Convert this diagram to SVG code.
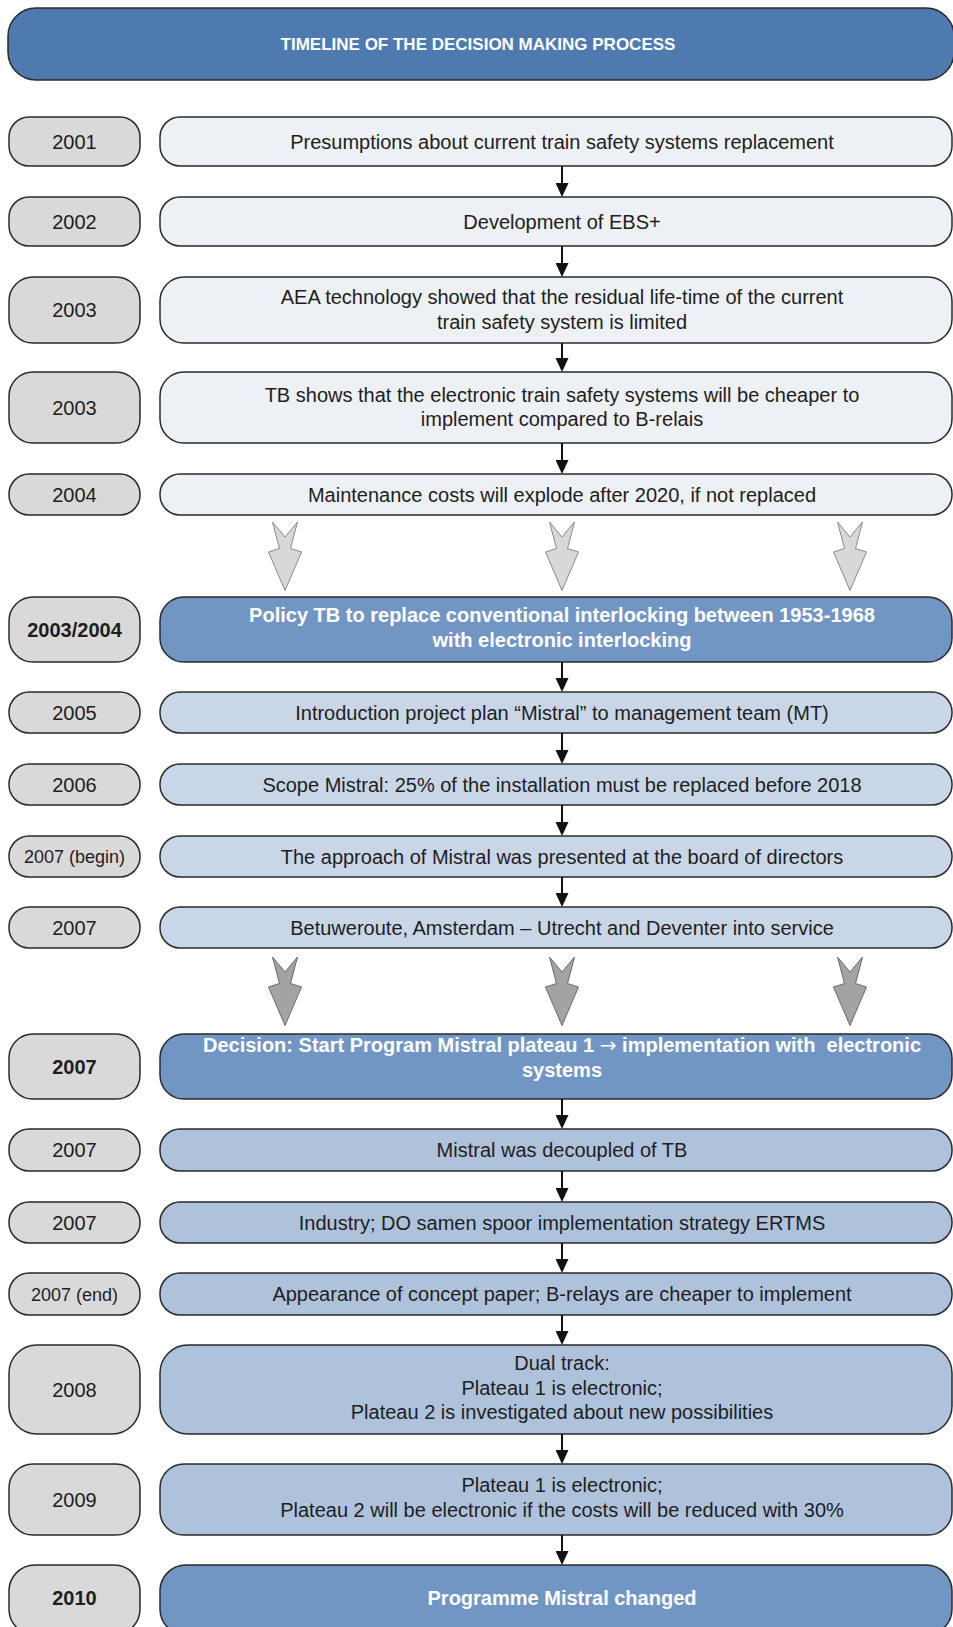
<svg xmlns="http://www.w3.org/2000/svg" width="953" height="1627" viewBox="0 0 953 1627">
<defs>
<marker id="ah" viewBox="0 0 14 13" refX="10" refY="6.5" markerWidth="14" markerHeight="13" markerUnits="userSpaceOnUse" orient="auto">
<path d="M0,0 L14,6.5 L0,13 Z" fill="#111"/>
</marker>
<style>
.yr{fill:#d9d9d9;stroke:#2a2a2a;stroke-width:1.5}
.l0{fill:#edf0f5;stroke:#2a2a2a;stroke-width:1.5}
.l1{fill:#c9d6e7;stroke:#2a2a2a;stroke-width:1.5}
.l2{fill:#afc2dc;stroke:#2a2a2a;stroke-width:1.5}
.hi{fill:#7296c4;stroke:#2a2a2a;stroke-width:1.5}
.ti{fill:#4e7ab0;stroke:#2a2a2a;stroke-width:1.5}
text{font-family:"Liberation Sans",Arial,sans-serif;font-size:20px;text-anchor:middle;fill:#1e1e1e}
.ys{font-size:18px}
.b{font-weight:bold}
.w{fill:#ffffff;font-weight:bold}
.tt{font-size:17px}
.arr{font-family:"DejaVu Sans",sans-serif;font-weight:normal}
.con line{stroke:#111;stroke-width:2;marker-end:url(#ah)}
.fa1{fill:#d8d8d8;stroke:#8a8a8a;stroke-width:1}
.fa2{fill:#a3a3a3;stroke:#6a6a6a;stroke-width:1}
</style>
</defs>
<g id="title">
<rect class="ti" x="8" y="8" width="946" height="72" rx="28"/>
<text class="w tt" x="478" y="50">TIMELINE OF THE DECISION MAKING PROCESS</text>
</g>

<g id="y2001"><rect class="yr" x="9" y="117" width="131" height="49" rx="20"/><text x="74.5" y="148.5">2001</text></g>
<g id="n2001"><rect class="l0" x="160" y="117" width="792" height="49" rx="20"/><text x="562" y="148.5">Presumptions about current train safety systems replacement</text></g>

<g id="y2002"><rect class="yr" x="9" y="197" width="131" height="49" rx="20"/><text x="74.5" y="228.5">2002</text></g>
<g id="n2002"><rect class="l0" x="160" y="197" width="792" height="49" rx="20"/><text x="562" y="228.5">Development of EBS+</text></g>

<g id="y2003a"><rect class="yr" x="9" y="277" width="131" height="66" rx="24"/><text x="74.5" y="317">2003</text></g>
<g id="n2003a"><rect class="l0" x="160" y="277" width="792" height="66" rx="24"/><text x="562" y="303.5">AEA technology showed that the residual life-time of the current</text><text x="562" y="328.5">train safety system is limited</text></g>

<g id="y2003b"><rect class="yr" x="9" y="372" width="131" height="71" rx="24"/><text x="74.5" y="414.5">2003</text></g>
<g id="n2003b"><rect class="l0" x="160" y="372" width="792" height="71" rx="24"/><text x="562" y="401.5">TB shows that the electronic train safety systems will be cheaper to</text><text x="562" y="426">implement compared to B-relais</text></g>

<g id="y2004"><rect class="yr" x="9" y="474" width="131" height="41" rx="20"/><text x="74.5" y="501.5">2004</text></g>
<g id="n2004"><rect class="l0" x="160" y="474" width="792" height="41" rx="20"/><text x="562" y="501.5">Maintenance costs will explode after 2020, if not replaced</text></g>

<g id="y2003_2004"><rect class="yr" x="9" y="597" width="131" height="65" rx="24"/><text class="b" x="74.5" y="636.5">2003/2004</text></g>
<g id="npolicy"><rect class="hi" x="160" y="597" width="792" height="65" rx="24"/><text class="w" x="562" y="622">Policy TB to replace conventional interlocking between 1953-1968</text><text class="w" x="562" y="647">with electronic interlocking</text></g>

<g id="y2005"><rect class="yr" x="9" y="692" width="131" height="41" rx="20"/><text x="74.5" y="719.5">2005</text></g>
<g id="n2005"><rect class="l1" x="160" y="692" width="792" height="41" rx="20"/><text x="562" y="719.5">Introduction project plan “Mistral” to management team (MT)</text></g>

<g id="y2006"><rect class="yr" x="9" y="764" width="131" height="41" rx="20"/><text x="74.5" y="791.5">2006</text></g>
<g id="n2006"><rect class="l1" x="160" y="764" width="792" height="41" rx="20"/><text x="562" y="791.5">Scope Mistral: 25% of the installation must be replaced before 2018</text></g>

<g id="y2007begin"><rect class="yr" x="9" y="836" width="131" height="41" rx="20"/><text class="ys" x="74.5" y="863">2007 (begin)</text></g>
<g id="n2007begin"><rect class="l1" x="160" y="836" width="792" height="41" rx="20"/><text x="562" y="863.5">The approach of Mistral was presented at the board of directors</text></g>

<g id="y2007a"><rect class="yr" x="9" y="907" width="131" height="41" rx="20"/><text x="74.5" y="934.5">2007</text></g>
<g id="n2007a"><rect class="l1" x="160" y="907" width="792" height="41" rx="20"/><text x="562" y="934.5">Betuweroute, Amsterdam – Utrecht and Deventer into service</text></g>

<g id="y2007b"><rect class="yr" x="9" y="1034" width="131" height="65" rx="24"/><text class="b" x="74.5" y="1073.5">2007</text></g>
<g id="ndecision"><rect class="hi" x="160" y="1034" width="792" height="65" rx="24"/><text class="w" x="562" y="1052" style="white-space:pre">Decision: Start Program Mistral plateau 1 <tspan class="arr">→</tspan> implementation with  electronic</text><text class="w" x="562" y="1077">systems</text></g>

<g id="y2007c"><rect class="yr" x="9" y="1129" width="131" height="42" rx="20"/><text x="74.5" y="1157">2007</text></g>
<g id="ndecoupled"><rect class="l2" x="160" y="1129" width="792" height="42" rx="20"/><text x="562" y="1157">Mistral was decoupled of TB</text></g>

<g id="y2007d"><rect class="yr" x="9" y="1202" width="131" height="41" rx="20"/><text x="74.5" y="1229.5">2007</text></g>
<g id="nindustry"><rect class="l2" x="160" y="1202" width="792" height="41" rx="20"/><text x="562" y="1229.5">Industry; DO samen spoor implementation strategy ERTMS</text></g>

<g id="y2007end"><rect class="yr" x="9" y="1273" width="131" height="42" rx="20"/><text class="ys" x="74.5" y="1300.5">2007 (end)</text></g>
<g id="nend"><rect class="l2" x="160" y="1273" width="792" height="42" rx="20"/><text x="562" y="1301">Appearance of concept paper; B-relays are cheaper to implement</text></g>

<g id="y2008"><rect class="yr" x="9" y="1345" width="131" height="89" rx="28"/><text x="74.5" y="1396.5">2008</text></g>
<g id="n2008"><rect class="l2" x="160" y="1345" width="792" height="89" rx="28"/><text x="562" y="1370">Dual track:</text><text x="562" y="1395">Plateau 1 is electronic;</text><text x="562" y="1419">Plateau 2 is investigated about new possibilities</text></g>

<g id="y2009"><rect class="yr" x="9" y="1464" width="131" height="71" rx="24"/><text x="74.5" y="1506.5">2009</text></g>
<g id="n2009"><rect class="l2" x="160" y="1464" width="792" height="71" rx="24"/><text x="562" y="1492">Plateau 1 is electronic;</text><text x="562" y="1517">Plateau 2 will be electronic if the costs will be reduced with 30%</text></g>

<g id="y2010"><rect class="yr" x="9" y="1565" width="131" height="70" rx="26"/><text class="b" x="74.5" y="1605">2010</text></g>
<g id="n2010"><rect class="hi" x="160" y="1565" width="792" height="70" rx="26"/><text class="w" x="562" y="1605">Programme Mistral changed</text></g>

<g id="connectors" class="con">
<line x1="562" y1="166" x2="562" y2="193"/>
<line x1="562" y1="246" x2="562" y2="273"/>
<line x1="562" y1="343" x2="562" y2="368"/>
<line x1="562" y1="443" x2="562" y2="470"/>
<line x1="562" y1="662" x2="562" y2="688"/>
<line x1="562" y1="733" x2="562" y2="760"/>
<line x1="562" y1="805" x2="562" y2="832"/>
<line x1="562" y1="877" x2="562" y2="903"/>
<line x1="562" y1="1099" x2="562" y2="1125"/>
<line x1="562" y1="1171" x2="562" y2="1198"/>
<line x1="562" y1="1243" x2="562" y2="1269"/>
<line x1="562" y1="1315" x2="562" y2="1341"/>
<line x1="562" y1="1434" x2="562" y2="1460"/>
<line x1="562" y1="1535" x2="562" y2="1561"/>
<path class="fa1" d="M272.5,522 L285,537 L297.5,522 L290.5,548.5 L301.5,552 L285,590.5 L268.5,552 L279.5,548.5 Z"/>
<path class="fa1" d="M549.5,522 L562,537 L574.5,522 L567.5,548.5 L578.5,552 L562,590.5 L545.5,552 L556.5,548.5 Z"/>
<path class="fa1" d="M837.5,522 L850,537 L862.5,522 L855.5,548.5 L866.5,552 L850,590.5 L833.5,552 L844.5,548.5 Z"/>
<path class="fa2" d="M272.5,957 L285,972 L297.5,957 L290.5,983.5 L301.5,987 L285,1025.5 L268.5,987 L279.5,983.5 Z"/>
<path class="fa2" d="M549.5,957 L562,972 L574.5,957 L567.5,983.5 L578.5,987 L562,1025.5 L545.5,987 L556.5,983.5 Z"/>
<path class="fa2" d="M837.5,957 L850,972 L862.5,957 L855.5,983.5 L866.5,987 L850,1025.5 L833.5,987 L844.5,983.5 Z"/>
</g>
</svg>
